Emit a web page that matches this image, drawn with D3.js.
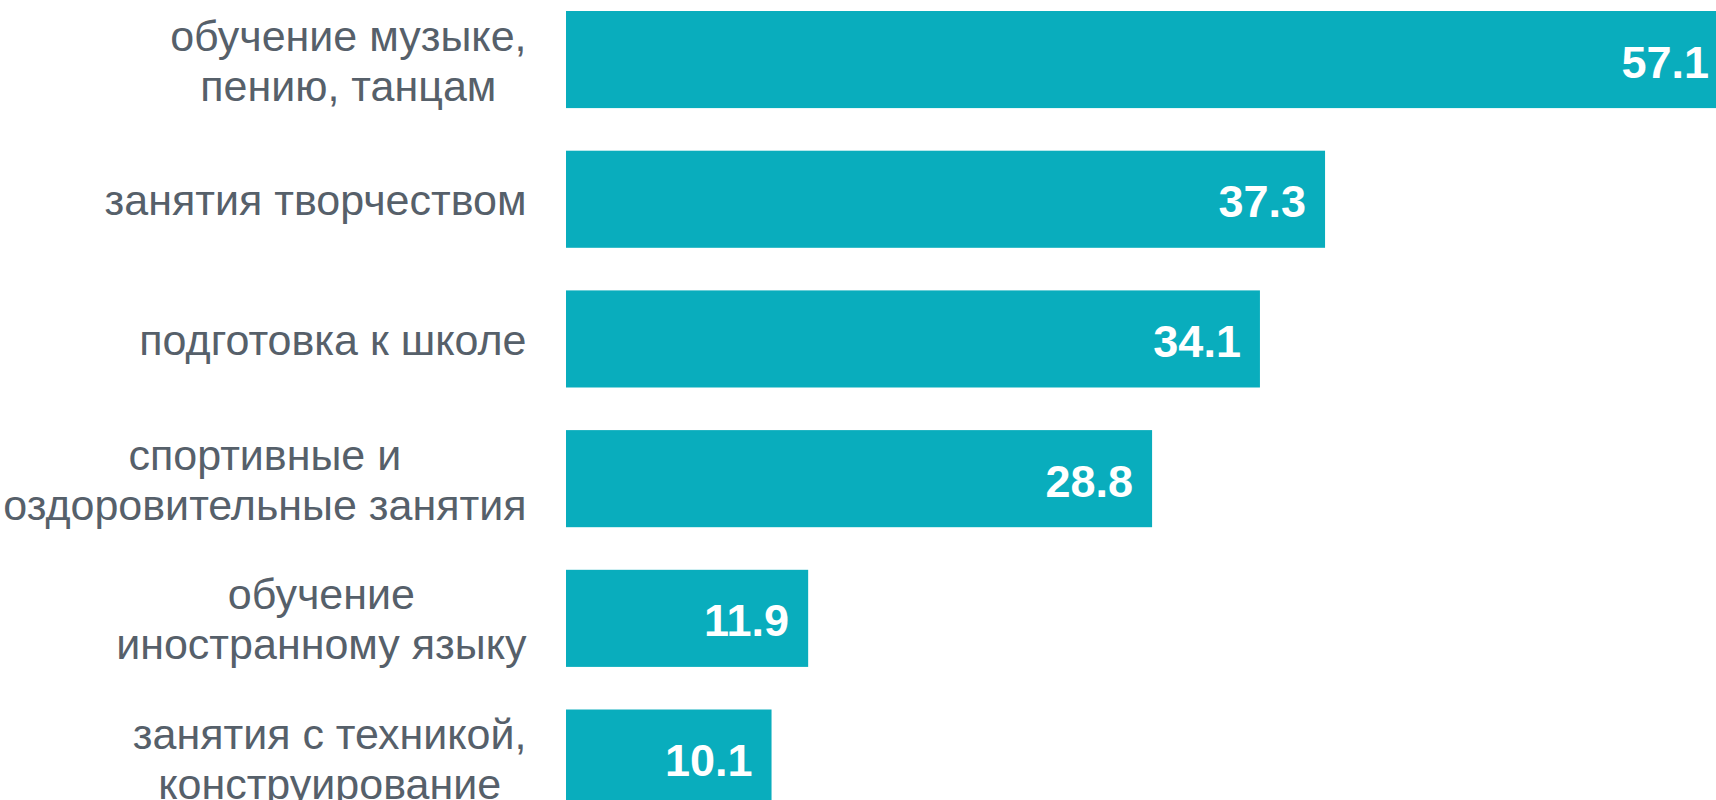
<!DOCTYPE html>
<html>
<head>
<meta charset="utf-8">
<script src="https://cdn.jsdelivr.net/npm/d3@7"></script>
<style>
  html, body { margin: 0; padding: 0; background: #ffffff; overflow: hidden; }
  svg { display: block; }
</style>
</head>
<body>
<svg id="chart" width="1716" height="800"></svg>
<script>
const categories = [
  "обучение музыке,\nпению, танцам",
  "занятия творчеством",
  "подготовка к школе",
  "спортивные и\nоздоровительные занятия",
  "обучение\nиностранному языку",
  "занятия с техникой,\nконструирование"
];
const values = [57.1, 37.3, 34.1, 28.8, 11.9, 10.1];
const valueLabels = ["57.1", "37.3", "34.1", "28.8", "11.9", "10.1"];

const W = 1716, H = 800;
const svg = d3.select("#chart");

const x = d3.scaleLinear().domain([0, 60]).range([566, 566 + 60 * 20.35]);
const y = d3.scaleBand().domain(categories).range([11, 806.6]).paddingInner(0.305).paddingOuter(0);

const barColor = "#09adbd";
const labelColor = "#56606a";
const font = "'Liberation Sans', Arial, sans-serif";

const data = categories.map((c, i) => ({ c, v: values[i], lab: valueLabels[i] }));

svg.append("g").selectAll("rect").data(data).join("rect")
  .attr("x", x(0))
  .attr("y", d => y(d.c))
  .attr("width", d => x(d.v) - x(0))
  .attr("height", y.bandwidth())
  .attr("fill", barColor);

svg.append("g").selectAll("text").data(data).join("text")
  .attr("x", d => x(d.v) - 19)
  .attr("y", d => y(d.c) + y.bandwidth() / 2 + 18)
  .attr("text-anchor", "end")
  .attr("font-family", font)
  .attr("font-weight", "bold")
  .attr("font-size", 45)
  .attr("fill", "#ffffff")
  .text(d => d.lab);

// category labels: block right-aligned, lines centered
const labelRight = 526.5;
const lineH = 50;
const catG = svg.append("g");
data.forEach(d => {
  const lines = d.c.split("\n");
  const cy = y(d.c) + y.bandwidth() / 2;
  const t = catG.append("text")
    .attr("font-family", font)
    .attr("font-size", 43)
    .attr("fill", labelColor)
    .attr("text-anchor", "middle");
  const n = lines.length;
  const tspans = lines.map((ln, i) =>
    t.append("tspan").attr("y", cy + 16 + (i - (n - 1) / 2) * lineH).text(ln)
  );
  const maxW = d3.max(tspans, ts => ts.node().getComputedTextLength());
  tspans.forEach(ts => ts.attr("x", labelRight - maxW / 2));
});
</script>
</body>
</html>
